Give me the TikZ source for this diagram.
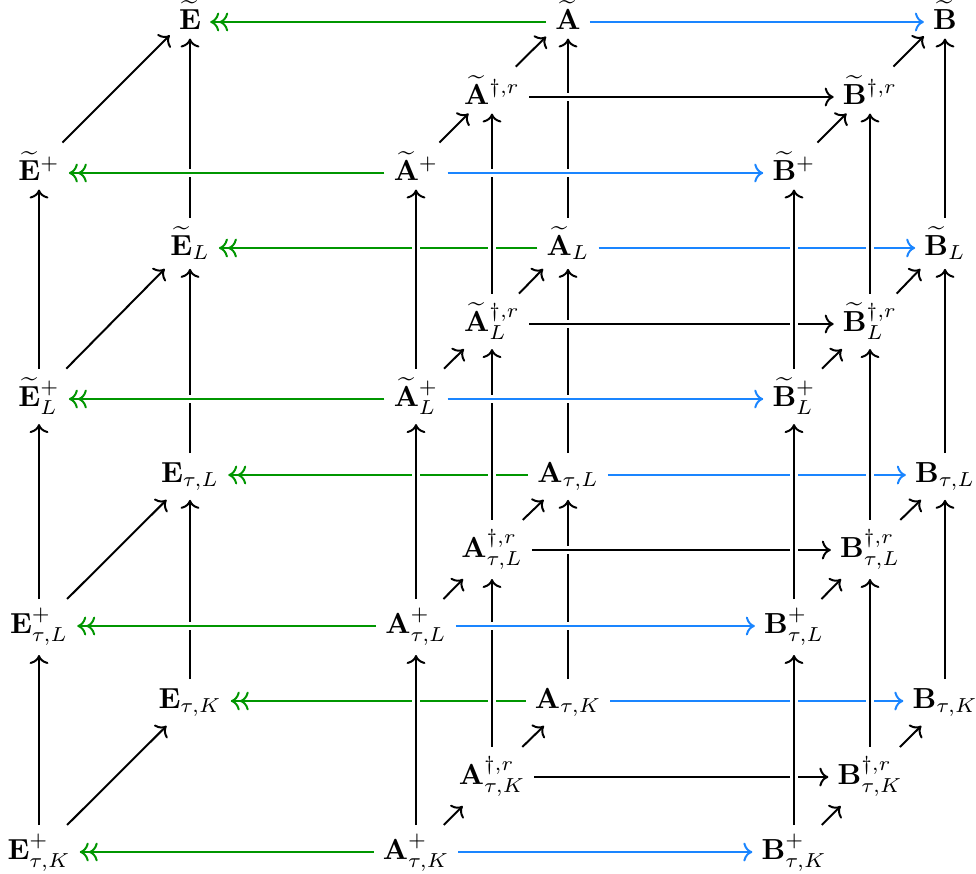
\documentclass[tikz,border=0pt]{standalone}
\usepackage{amsmath}
\usetikzlibrary{arrows.meta}
\definecolor{cdgreen}{RGB}{0,150,0}
\definecolor{cdblue}{RGB}{26,133,255}
\begin{document}
\begin{tikzpicture}[x=0.3448pt, y=-0.3448pt,
  cell/.style={anchor=base, inner sep=3pt, yshift=-2.5pt},
  ar/.style={line width=0.68pt, -{Computer Modern Rightarrow[]}},
  epi/.style={line width=0.68pt, cdgreen, -{Computer Modern Rightarrow[]Computer Modern Rightarrow[]}},
  inj/.style={ar, cdblue},
  over/.style={preaction={draw=white, line width=2.8pt, -}}
]
\useasboundingbox (0,0) rectangle (976,873);
% ---------- layer 1 ----------
\node[cell] (E1)  at (190,22)    {$\widetilde{\mathbf{E}}$};
\node[cell] (A1)  at (568,22)    {$\widetilde{\mathbf{A}}$};
\node[cell] (B1)  at (945,22)    {$\widetilde{\mathbf{B}}$};
\node[cell] (Ad1) at (492,97)    {$\widetilde{\mathbf{A}}^{\dagger,r}$};
\node[cell] (Bd1) at (870,97)    {$\widetilde{\mathbf{B}}^{\dagger,r}$};
\node[cell] (Ep1) at (39,173)    {$\widetilde{\mathbf{E}}^{+}$};
\node[cell] (Ap1) at (416,173)   {$\widetilde{\mathbf{A}}^{+}$};
\node[cell] (Bp1) at (794,173)   {$\widetilde{\mathbf{B}}^{+}$};
% ---------- layer 2 ----------
\node[cell] (E2)  at (190,248)    {$\widetilde{\mathbf{E}}_L$};
\node[cell] (A2)  at (568,248)    {$\widetilde{\mathbf{A}}_L$};
\node[cell] (B2)  at (945,248)    {$\widetilde{\mathbf{B}}_L$};
\node[cell] (Ad2) at (492,324)    {$\widetilde{\mathbf{A}}^{\dagger,r}_L$};
\node[cell] (Bd2) at (870,324)    {$\widetilde{\mathbf{B}}^{\dagger,r}_L$};
\node[cell] (Ep2) at (39,399)     {$\widetilde{\mathbf{E}}^{+}_L$};
\node[cell] (Ap2) at (416,399)    {$\widetilde{\mathbf{A}}^{+}_L$};
\node[cell] (Bp2) at (794,399)    {$\widetilde{\mathbf{B}}^{+}_L$};
% ---------- layer 3 ----------
\node[cell] (E3)  at (190,475)    {$\mathbf{E}_{\tau,L}$};
\node[cell] (A3)  at (568,475)    {$\mathbf{A}_{\tau,L}$};
\node[cell] (B3)  at (945,475)    {$\mathbf{B}_{\tau,L}$};
\node[cell] (Ad3) at (492,550)    {$\mathbf{A}^{\dagger,r}_{\tau,L}$};
\node[cell] (Bd3) at (870,550)    {$\mathbf{B}^{\dagger,r}_{\tau,L}$};
\node[cell] (Ep3) at (39,626)     {$\mathbf{E}^{+}_{\tau,L}$};
\node[cell] (Ap3) at (416,626)    {$\mathbf{A}^{+}_{\tau,L}$};
\node[cell] (Bp3) at (794,626)    {$\mathbf{B}^{+}_{\tau,L}$};
% ---------- layer 4 ----------
\node[cell] (E4)  at (190,701)    {$\mathbf{E}_{\tau,K}$};
\node[cell] (A4)  at (568,701)    {$\mathbf{A}_{\tau,K}$};
\node[cell] (B4)  at (945,701)    {$\mathbf{B}_{\tau,K}$};
\node[cell] (Ad4) at (492,777)    {$\mathbf{A}^{\dagger,r}_{\tau,K}$};
\node[cell] (Bd4) at (870,777)    {$\mathbf{B}^{\dagger,r}_{\tau,K}$};
\node[cell] (Ep4) at (39,852)     {$\mathbf{E}^{+}_{\tau,K}$};
\node[cell] (Ap4) at (416,852)    {$\mathbf{A}^{+}_{\tau,K}$};
\node[cell] (Bp4) at (794,852)    {$\mathbf{B}^{+}_{\tau,K}$};

% 1. back rows (under everything)
\foreach \k in {1,2,3,4}{
  \draw[epi] ([yshift=2.5pt]A\k.base west) -- ([yshift=2.5pt]E\k.base east);
  \draw[inj] ([yshift=2.5pt]A\k.base east) -- ([yshift=2.5pt]B\k.base west);
}
% 2. verticals of the A and E columns
\foreach \k/\j in {2/1,3/2,4/3}{
  \draw[ar] (A\k) -- (A\j);
  \draw[ar] (E\k) -- (E\j);
}
% 3. middle rows
\foreach \k in {1,2,3,4}{
  \draw[ar, over] ([yshift=2.5pt]Ad\k.base east) -- ([yshift=2.5pt]Bd\k.base west);
}
% 4. other verticals
\foreach \k/\j in {2/1,3/2,4/3}{
  \draw[ar, over] (Ep\k) -- (Ep\j);
  \draw[ar, over] (Ap\k) -- (Ap\j);
  \draw[ar, over] (Ad\k) -- (Ad\j);
  \draw[ar, over] (Bp\k) -- (Bp\j);
  \draw[ar, over] (Bd\k) -- (Bd\j);
  \draw[ar, over] (B\k) -- (B\j);
}
% 5. diagonals
\foreach \k in {1,2,3,4}{
  \draw[ar] (Ep\k) -- (E\k);
  \draw[ar] (Ap\k) -- (Ad\k);
  \draw[ar] (Ad\k) -- (A\k);
  \draw[ar] (Bp\k) -- (Bd\k);
  \draw[ar] (Bd\k) -- (B\k);
}
% 6. front rows (over everything)
\foreach \k in {1,2,3,4}{
  \draw[epi, over] ([yshift=2.5pt]Ap\k.base west) -- ([yshift=2.5pt]Ep\k.base east);
  \draw[inj, over] ([yshift=2.5pt]Ap\k.base east) -- ([yshift=2.5pt]Bp\k.base west);
}
\end{tikzpicture}
\end{document}
